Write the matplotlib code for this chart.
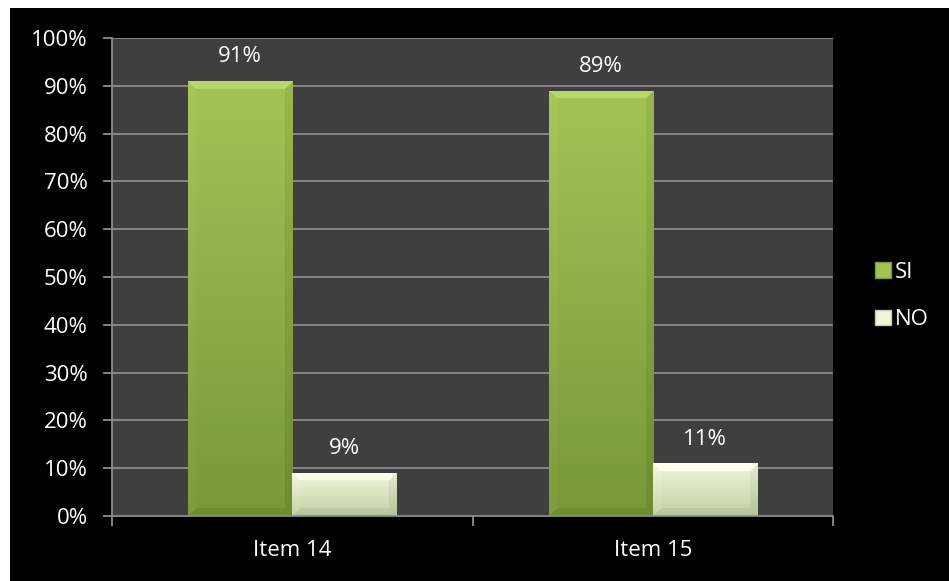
import numpy as np
import matplotlib
matplotlib.use("Agg")
import matplotlib.pyplot as plt
from matplotlib.patches import Rectangle
from matplotlib.colors import to_rgb

categories = ["Item 14", "Item 15"]
series_names = ["SI", "NO"]
si_values = [91, 89]
no_values = [9, 11]
y_ticks = list(range(0, 101, 10))
y_tick_labels = [f"{v}%" for v in y_ticks]

FONT = "Open Sans"
FS = 16
plt.rcParams["font.family"] = [FONT, "DejaVu Sans"]

fig = plt.figure(figsize=(9.49, 5.81), dpi=100, facecolor="white")
# black chart area with a thin white margin on the top and left
fig.patches.append(Rectangle((10 / 949, 0), 1, 1 - 8 / 581, transform=fig.transFigure,
                             facecolor="black", edgecolor="none", zorder=-10))

ax = fig.add_axes([112 / 949, 65 / 581, 721 / 949, 478 / 581])
ax.set_facecolor("#3f3f3f")

grid_col = "#8c8c8c"
for v in y_ticks[1:]:
    ax.axhline(v, color=grid_col, lw=1.3, zorder=1)

bar_w = 0.289
x = np.arange(len(categories))

styles = {
    "SI": (to_rgb("#a3c455"), to_rgb("#78983a")),
    "NO": (to_rgb("#f0f6dc"), to_rgb("#c0d0a4")),
}


def bevel_image(w_px, h_px, top, bottom, b=8):
    w_px = max(int(w_px), 2)
    h_px = max(int(h_px), 2)
    jj, ii = np.mgrid[0:h_px, 0:w_px]
    t = jj / (h_px - 1)
    top = np.array(top)
    bottom = np.array(bottom)
    img = top[None, None, :] * (1 - t[..., None]) + bottom[None, None, :] * t[..., None]
    d_top = jj
    d_bot = h_px - 1 - jj
    d_left = ii
    d_right = w_px - 1 - ii
    dmin = np.minimum.reduce([d_top, d_bot, d_left, d_right])
    edge = dmin < b
    adj = np.zeros((h_px, w_px))
    adj[(d_top == dmin) & edge] = 0.08
    adj[(d_left == dmin) & edge & (d_top != dmin)] = 0.015
    adj[(d_right == dmin) & edge & (d_top != dmin)] = -0.045
    adj[(d_bot == dmin) & edge & (d_left != dmin) & (d_right != dmin)] = -0.04
    img = np.clip(img + adj[..., None], 0, 1)
    return img


px_per_unit_x = 721 / 2.0
px_per_unit_y = 478 / 100.0

for k, (name, vals) in enumerate(zip(series_names, [si_values, no_values])):
    offs = (k - 0.5) * bar_w
    bars = ax.bar(x + offs, vals, width=bar_w, facecolor="none", edgecolor="none", zorder=3)
    top, bottom = styles[name]
    for rect, v in zip(bars, vals):
        x0 = rect.get_x()
        img = bevel_image(bar_w * px_per_unit_x, v * px_per_unit_y, top, bottom)
        im = ax.imshow(img, extent=(x0, x0 + bar_w, 0, v), aspect="auto",
                       origin="upper", zorder=3, interpolation="bilinear")
        im.set_clip_path(rect)
        ax.annotate(f"{v}%", (x0 + bar_w / 2, v), xytext=(0, 10), textcoords="offset points",
                    ha="center", va="bottom", color="white", fontsize=FS)

ax.set_xlim(-0.5, 1.5)
ax.set_ylim(0, 100)
ax.set_yticks(y_ticks)
ax.set_yticklabels(y_tick_labels)
ax.set_xticks([-0.5, 0.5, 1.5])
ax.set_xticklabels([])
ax.set_xticks(x, minor=True)
ax.set_xticklabels(categories, minor=True)
ax.tick_params(axis="x", which="minor", length=0, pad=17, labelsize=FS, labelcolor="white")
ax.tick_params(axis="x", which="major", length=7, width=1.3, color=grid_col)
ax.tick_params(axis="y", length=6.5, width=1.3, color=grid_col, labelsize=FS,
               labelcolor="white", pad=11)
for side in ["top", "right"]:
    ax.spines[side].set_visible(False)
for side in ["left", "bottom"]:
    ax.spines[side].set_color(grid_col)
    ax.spines[side].set_linewidth(1.3)
    ax.spines[side].set_zorder(4)

handles = [Rectangle((0, 0), 1, 1, facecolor=styles[n][0], edgecolor=styles[n][1], lw=1)
           for n in series_names]
leg = fig.legend(handles, series_names, loc="center left",
                 bbox_to_anchor=(864 / 949, 1 - 296 / 581), borderpad=0,
                 frameon=False, fontsize=FS, labelcolor="white", handlelength=0.7,
                 handleheight=0.7, handletextpad=0.2, labelspacing=1.2)

fig.savefig("out.png", dpi=100, facecolor=fig.get_facecolor())
